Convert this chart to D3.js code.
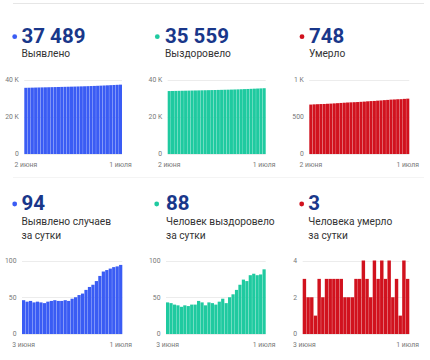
<!DOCTYPE html>
<html>
<head>
<meta charset="utf-8">
<script src="https://cdn.jsdelivr.net/npm/d3@7"></script>
<style>
  html, body { margin: 0; padding: 0; background: #fff; }
  svg { display: block; font-family: Roboto, "Noto Sans", sans-serif; }
</style>
</head>
<body>
<svg id="chart" width="430" height="360"></svg>
<script>
// ---- data ----
const datesTop = ["2 июня", "1 июля"];
const datesBottom = ["3 июня", "1 июля"];

const totalCases = [35780, 35826, 35870, 35915, 35958, 36002, 36045, 36087, 36131, 36176,
  36222, 36267, 36312, 36358, 36403, 36451, 36501, 36554, 36609, 36669,
  36733, 36800, 36872, 36951, 37036, 37123, 37212, 37303, 37395, 37489];
const totalRecovered = [34027, 34070, 34112, 34152, 34191, 34228, 34267, 34305, 34345, 34385,
  34430, 34473, 34512, 34555, 34597, 34637, 34681, 34729, 34771, 34821,
  34875, 34935, 35002, 35076, 35148, 35228, 35310, 35390, 35471, 35559];
const totalDeaths = [668, 671, 673, 675, 676, 679, 681, 684, 687, 690,
  693, 696, 698, 700, 702, 705, 708, 712, 715, 717,
  721, 724, 728, 731, 735, 737, 740, 741, 745, 748];

const dailyCases = [46, 44, 45, 43, 44, 43, 42, 44, 45, 46, 45, 45, 46, 45, 48,
  50, 53, 55, 60, 64, 67, 72, 79, 85, 87, 89, 91, 92, 94];
const dailyRecovered = [43, 42, 40, 39, 37, 39, 38, 40, 40, 45, 43, 39, 43, 42, 40,
  44, 48, 42, 50, 54, 60, 67, 74, 72, 80, 82, 80, 81, 88];
const dailyDeaths = [3, 2, 2, 1, 3, 2, 3, 3, 3, 3, 3, 2, 2, 2, 3,
  3, 4, 3, 2, 4, 3, 4, 3, 4, 2, 3, 1, 4, 3];

const headlines = ["37 489", "35 559", "748", "94", "88", "3"];
const captions = [["Выявлено"], ["Выздоровело"], ["Умерло"],
  ["Выявлено случаев", "за сутки"], ["Человек выздоровело", "за сутки"], ["Человека умерло", "за сутки"]];
const yMax = [40000, 40000, 1000, 100, 100, 4];
const yTicks = [[0, 20000, 40000], [0, 20000, 40000], [0, 500, 1000], [0, 50, 100], [0, 50, 100], [0, 2, 4]];
const yTickLabels = [["0", "20 K", "40 K"], ["0", "20 K", "40 K"], ["0", "500", "1 K"],
  ["0", "50", "100"], ["0", "50", "100"], ["0", "2", "4"]];

// ---- styles/layout ----
const BLUE = "#3a5cf4", TEAL = "#1fcaa0", RED = "#d1121e", NAVY = "#19378a";
const series = [totalCases, totalRecovered, totalDeaths, dailyCases, dailyRecovered, dailyDeaths];
const colors = [BLUE, TEAL, RED, BLUE, TEAL, RED];
const layout = [
  {dotX: 14.7, textX: 21.5, L: 24.3, R: 122, row: 0},
  {dotX: 157.3, textX: 165, L: 167.7, R: 265.7, row: 0},
  {dotX: 302, textX: 309, L: 309.3, R: 409.3, row: 0},
  {dotX: 14.7, textX: 21.5, L: 22, R: 122.3, row: 1},
  {dotX: 156.7, textX: 166, L: 166, R: 265.7, row: 1},
  {dotX: 301.7, textX: 308.3, L: 302.7, R: 409.3, row: 1}
];
const rows = [
  {numY: 42.7, capY: 57.3, y0: 154, y1: 80, xLabY: 166.5},
  {numY: 210, capY: 225, y0: 334, y1: 260.5, xLabY: 347}
];

const svg = d3.select("#chart");

// separator lines
svg.append("line").attr("x1", 13).attr("x2", 424).attr("y1", 3.5).attr("y2", 3.5)
  .attr("stroke", "#e6e6e6").attr("stroke-width", 1);
svg.append("line").attr("x1", 13).attr("x2", 424).attr("y1", 177.5).attr("y2", 177.5)
  .attr("stroke", "#f4f4f4").attr("stroke-width", 1);

series.forEach((vals, i) => {
  const lay = layout[i], r = rows[lay.row];
  const g = svg.append("g");

  // dot + number
  g.append("circle").attr("cx", lay.dotX).attr("cy", r.numY - 6).attr("r", 2.4).attr("fill", colors[i]);
  g.append("text").attr("x", lay.textX).attr("y", r.numY)
    .attr("font-size", 20.5).attr("font-weight", 700).attr("fill", NAVY)
    .text(headlines[i]);
  captions[i].forEach((c, k) => {
    g.append("text").attr("x", lay.textX).attr("y", r.capY + k * 14)
      .attr("font-size", 10.2).attr("fill", "#333").text(c);
  });

  const x = d3.scaleBand().domain(d3.range(vals.length)).range([lay.L, lay.R]).paddingInner(0.07).paddingOuter(0);
  const y = d3.scaleLinear().domain([0, yMax[i]]).range([r.y0, r.y1]);

  // grid
  g.selectAll(".grid").data(yTicks[i]).enter().append("line")
    .attr("x1", lay.L).attr("x2", lay.R)
    .attr("y1", d => Math.round(y(d)) + 0.5).attr("y2", d => Math.round(y(d)) + 0.5)
    .attr("stroke", "#ececec").attr("stroke-width", 1);

  // y labels
  g.selectAll(".ylab").data(yTicks[i]).enter().append("text")
    .attr("x", lay.L - 5.5).attr("y", d => y(d)).attr("dy", "0.35em")
    .attr("text-anchor", "end").attr("font-size", 6.8).attr("fill", "#777")
    .text((d, k) => yTickLabels[i][k]);

  // bars
  g.selectAll(".bar").data(vals).enter().append("rect")
    .attr("x", (d, k) => x(k)).attr("width", x.bandwidth())
    .attr("y", d => y(d)).attr("height", d => y(0) - y(d))
    .attr("fill", colors[i]);

  // x labels
  const labs = lay.row === 0 ? datesTop : datesBottom;
  const first = x(0) + x.bandwidth() / 2, last = x(vals.length - 1) + x.bandwidth() / 2;
  g.append("text").attr("x", first).attr("y", r.xLabY).attr("text-anchor", "middle")
    .attr("font-size", 6.8).attr("fill", "#777").text(labs[0]);
  g.append("text").attr("x", last).attr("y", r.xLabY).attr("text-anchor", "middle")
    .attr("font-size", 6.8).attr("fill", "#777").text(labs[1]);
});
</script>
</body>
</html>
